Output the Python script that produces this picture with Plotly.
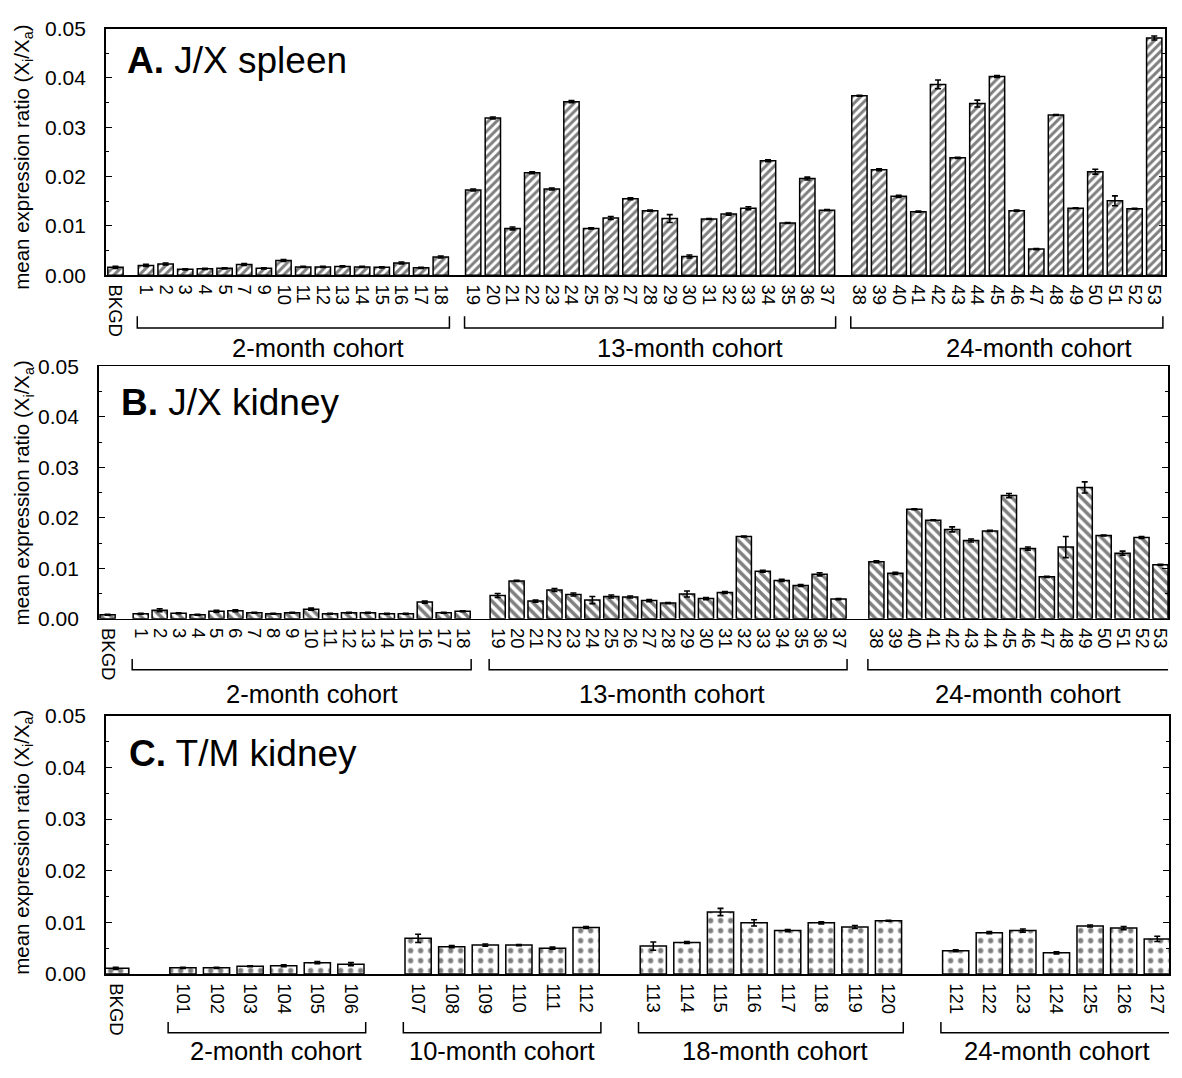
import plotly.graph_objects as go

# ---------------- DATA ----------------
# Panel A: J/X spleen
a_bkgd_label = ["BKGD"]
a_bkgd_val = [0.0016]
a_bkgd_err = [0.0002]

a_g1_labels = ["1", "2", "3", "4", "5", "7", "9", "10", "11", "12", "13", "14", "15", "16", "17", "18"]
a_g1_vals = [0.0020, 0.0023, 0.0012, 0.0013, 0.0014, 0.0022, 0.0014, 0.0030, 0.0017, 0.0017,
             0.0018, 0.0017, 0.0016, 0.0025, 0.0015, 0.0037]
a_g1_err = [0.0002, 0.0002, 0.0001, 0.0001, 0.0001, 0.0002, 0.0001, 0.0002, 0.0001, 0.0001,
            0.0001, 0.0001, 0.0001, 0.0002, 0.0001, 0.0002]

a_g2_labels = [str(i) for i in range(19, 38)]
a_g2_vals = [0.0173, 0.0319, 0.0095, 0.0208, 0.0175, 0.0352, 0.0095, 0.0116, 0.0155, 0.0131,
             0.0115, 0.0038, 0.0114, 0.0124, 0.0136, 0.0232, 0.0106, 0.0196, 0.0132]
a_g2_err = [0.0002, 0.0002, 0.0003, 0.0002, 0.0002, 0.0002, 0.0001, 0.0003, 0.0002, 0.0001,
            0.0008, 0.0003, 0.0001, 0.0002, 0.0003, 0.0002, 0.0001, 0.0003, 0.0001]

a_g3_labels = [str(i) for i in range(38, 54)]
a_g3_vals = [0.0364, 0.0214, 0.0160, 0.0129, 0.0387, 0.0238, 0.0348, 0.0403, 0.0131, 0.0053,
             0.0325, 0.0136, 0.0210, 0.0151, 0.0135, 0.0481]
a_g3_err = [0.0001, 0.0002, 0.0002, 0.0001, 0.0009, 0.0001, 0.0007, 0.0002, 0.0001, 0.0001,
            0.0001, 0.0001, 0.0005, 0.0010, 0.0001, 0.0004]

# Panel B: J/X kidney
b_bkgd_label = ["BKGD"]
b_bkgd_val = [0.0008]
b_bkgd_err = [0.0001]

b_g1_labels = [str(i) for i in range(1, 19)]
b_g1_vals = [0.0010, 0.0017, 0.0011, 0.0008, 0.0015, 0.0016, 0.0012, 0.0010, 0.0012, 0.0019,
             0.0010, 0.0012, 0.0012, 0.0010, 0.0010, 0.0033, 0.0012, 0.0015]
b_g1_err = [0.0001, 0.0003, 0.0001, 0.0001, 0.0002, 0.0002, 0.0001, 0.0001, 0.0001, 0.0002,
            0.0001, 0.0001, 0.0001, 0.0001, 0.0001, 0.0002, 0.0001, 0.0001]

b_g2_labels = [str(i) for i in range(19, 38)]
b_g2_vals = [0.0046, 0.0075, 0.0035, 0.0057, 0.0048, 0.0037, 0.0044, 0.0043, 0.0036, 0.0031,
             0.0049, 0.0040, 0.0052, 0.0163, 0.0094, 0.0076, 0.0066, 0.0088, 0.0039]
b_g2_err = [0.0004, 0.0001, 0.0002, 0.0003, 0.0003, 0.0007, 0.0003, 0.0002, 0.0002, 0.0001,
            0.0006, 0.0002, 0.0002, 0.0001, 0.0002, 0.0002, 0.0002, 0.0003, 0.0001]

b_g3_labels = [str(i) for i in range(38, 54)]
b_g3_vals = [0.0113, 0.0090, 0.0217, 0.0195, 0.0177, 0.0155, 0.0174, 0.0244, 0.0139, 0.0083,
             0.0142, 0.0260, 0.0165, 0.0130, 0.0161, 0.0107]
b_g3_err = [0.0002, 0.0002, 0.0001, 0.0001, 0.0005, 0.0003, 0.0001, 0.0004, 0.0003, 0.0001,
            0.0021, 0.0011, 0.0001, 0.0004, 0.0002, 0.0001]

# Panel C: T/M kidney
c_bkgd_label = ["BKGD"]
c_bkgd_val = [0.0011]
c_bkgd_err = [0.0002]

c_g1_labels = ["101", "102", "103", "104", "105", "106"]
c_g1_vals = [0.0012, 0.0012, 0.0015, 0.0016, 0.0022, 0.0019]
c_g1_err = [0.0001, 0.0001, 0.0001, 0.0002, 0.0002, 0.0003]

c_g2_labels = ["107", "108", "109", "110", "111", "112"]
c_g2_vals = [0.0069, 0.0053, 0.0056, 0.0056, 0.0050, 0.0090]
c_g2_err = [0.0008, 0.0002, 0.0002, 0.0001, 0.0002, 0.0002]

c_g3_labels = ["113", "114", "115", "116", "117", "118", "119", "120"]
c_g3_vals = [0.0054, 0.0061, 0.0120, 0.0099, 0.0084, 0.0099, 0.0091, 0.0103]
c_g3_err = [0.0008, 0.0002, 0.0007, 0.0006, 0.0002, 0.0002, 0.0003, 0.0001]

c_g4_labels = ["121", "122", "123", "124", "125", "126", "127"]
c_g4_vals = [0.0045, 0.0080, 0.0084, 0.0041, 0.0093, 0.0089, 0.0068]
c_g4_err = [0.0002, 0.0002, 0.0003, 0.0002, 0.0002, 0.0003, 0.0005]

a_cohorts = ["2-month cohort", "13-month cohort", "24-month cohort"]
b_cohorts = ["2-month cohort", "13-month cohort", "24-month cohort"]
c_cohorts = ["2-month cohort", "10-month cohort", "18-month cohort", "24-month cohort"]

panel_titles = ["<b>A.</b> J/X spleen", "<b>B.</b> J/X kidney", "<b>C.</b> T/M kidney"]
y_title = "mean expression ratio (X<sub>i</sub>/X<sub>a</sub>)"

# ---------------- LAYOUT HELPERS ----------------
W, H = 1182, 1078
FONT = "Liberation Sans, Arial, sans-serif"


def py(pix):
    return 1 - pix / H


def px(pix):
    return pix / W


def layout_positions(groups, gaps):
    """groups: list of label lists; gaps: distance (in slots) before each group after the first."""
    pos = []
    cur = 0.0
    for gi, g in enumerate(groups):
        if gi > 0:
            cur += gaps[gi - 1]
        gp = []
        for k in range(len(g)):
            gp.append(cur + k)
        cur = gp[-1]
        pos.append(gp)
    return pos


panels = [
    dict(
        groups=[a_bkgd_label, a_g1_labels, a_g2_labels, a_g3_labels],
        vals=[a_bkgd_val, a_g1_vals, a_g2_vals, a_g3_vals],
        errs=[a_bkgd_err, a_g1_err, a_g2_err, a_g3_err],
        gaps=[1.55, 1.65, 1.65],
        xrange=[-0.5, 53.4],
        xdom=[px(105), px(1168)],
        ydom=[py(269), py(17)],
        pattern="/",
        psize=6,
        cohorts=a_cohorts,
        cohort_shift=[25, 40, 32],
        bracket_y=(py(323), py(311)),
        label_y=py(343),
        title_xy=(px(124), py(50)),
        ytitle_y=py(148),
        bw=0.78,
    ),
    dict(
        groups=[b_bkgd_label, b_g1_labels, b_g2_labels, b_g3_labels],
        vals=[b_bkgd_val, b_g1_vals, b_g2_vals, b_g3_vals],
        errs=[b_bkgd_err, b_g1_err, b_g2_err, b_g3_err],
        gaps=[1.75, 1.85, 2.0],
        xrange=[-0.47, 56.0],
        xdom=[px(98), px(1171)],
        ydom=[py(620), py(362)],
        pattern="\\",
        psize=7,
        cohorts=b_cohorts,
        cohort_shift=[10, 4, 10],
        bracket_y=(py(672), py(661)),
        label_y=py(697),
        title_xy=(px(118), py(399)),
        ytitle_y=py(491),
        bw=0.8,
    ),
    dict(
        groups=[c_bkgd_label, c_g1_labels, c_g2_labels, c_g3_labels, c_g4_labels],
        vals=[c_bkgd_val, c_g1_vals, c_g2_vals, c_g3_vals, c_g4_vals],
        errs=[c_bkgd_err, c_g1_err, c_g2_err, c_g3_err, c_g4_err],
        gaps=[2.0, 2.0, 2.0, 2.0],
        xrange=[-0.3, 31.35],
        xdom=[px(105), px(1172)],
        ydom=[py(983), py(719)],
        pattern=".",
        psize=10,
        cohorts=c_cohorts,
        cohort_shift=[9, 0, 4, 1],
        bracket_y=(py(1043), py(1032)),
        label_y=py(1062),
        title_xy=(px(126), py(758)),
        ytitle_y=py(848),
        bw=0.78,
    ),
]

fig = go.Figure()
layout_axes = {}
shapes = []
annotations = []

for pi, p in enumerate(panels):
    ax = "" if pi == 0 else str(pi + 1)
    xref = "x" + ax
    yref = "y" + ax
    pos = layout_positions(p["groups"], p["gaps"])
    xs, ys, es, labels = [], [], [], []
    for gp, gl, gv, ge in zip(pos, p["groups"], p["vals"], p["errs"]):
        xs += gp
        labels += gl
        ys += gv
        es += ge
    pattern = dict(shape=p["pattern"], fgcolor="black", bgcolor="white",
                   size=p["psize"], solidity=0.5 if p["pattern"] != "." else 0.22,
                   fillmode="overlay")
    fig.add_trace(go.Bar(
        x=xs, y=ys, width=p["bw"], xaxis=xref, yaxis=yref,
        marker=dict(color="white", line=dict(color="black", width=1.5), pattern=pattern),
        error_y=dict(type="data", array=es, visible=True, color="black", thickness=1.6, width=3),
        showlegend=False, hoverinfo="skip",
    ))
    xa = "xaxis" + ax
    ya = "yaxis" + ax
    layout_axes[xa] = dict(
        domain=p["xdom"], anchor=yref, range=p["xrange"],
        tickmode="array", tickvals=xs, ticktext=labels, tickangle=90,
        ticks="", ticklabelstandoff=4,
        tickfont=dict(family=FONT, size=18.5, color="black"),
        showline=True, linecolor="black", linewidth=1.5, mirror=True,
        showgrid=False, zeroline=False, fixedrange=True,
    )
    layout_axes[ya] = dict(
        domain=p["ydom"], anchor=xref, range=[0, 0.05],
        tickmode="linear", tick0=0, dtick=0.01, tickformat=".2f",
        ticks="inside", ticklen=6, tickwidth=1, tickcolor="black",
        minor=dict(ticks="inside", ticklen=3, dtick=0.005, tickcolor="black"),
        ticklabelstandoff=14,
        tickfont=dict(family=FONT, size=21, color="black"),
        showline=True, linecolor="black", linewidth=1.5, mirror="ticks",
        showgrid=False, zeroline=False, fixedrange=True,
    )
    # brackets and cohort labels (skip background group)
    y0, y1 = p["bracket_y"]
    for gi, gp in enumerate(pos[1:]):
        left = gp[0] - p["bw"] / 2 - 0.05
        right = gp[-1] + p["bw"] / 2 + 0.05
        shapes.append(dict(
            type="path", xref=xref, yref="paper",
            path=f"M {left},{y1} L {left},{y0} L {right},{y0} L {right},{y1}",
            line=dict(color="black", width=1.5),
        ))
        annotations.append(dict(
            x=(gp[0] + gp[-1]) / 2, y=p["label_y"], xref=xref, yref="paper",
            text=p["cohorts"][gi], showarrow=False, xanchor="center", yanchor="middle",
            xshift=p["cohort_shift"][gi],
            font=dict(family=FONT, size=25.5, color="black"),
        ))
    # panel title
    annotations.append(dict(
        x=p["title_xy"][0], y=p["title_xy"][1], xref="paper", yref="paper",
        text=panel_titles[pi], showarrow=False, xanchor="left", yanchor="middle",
        font=dict(family=FONT, size=37, color="black"),
    ))
    # y axis title
    annotations.append(dict(
        x=px(22), y=p["ytitle_y"], xref="paper", yref="paper",
        text=y_title, showarrow=False, textangle=-90, xanchor="center", yanchor="middle",
        font=dict(family=FONT, size=20.5, color="black"),
    ))

fig.update_layout(
    width=W, height=H,
    margin=dict(l=0, r=0, t=0, b=0),
    paper_bgcolor="white", plot_bgcolor="white",
    font=dict(family=FONT, color="black"),
    bargap=0,
    shapes=shapes, annotations=annotations,
    **layout_axes,
)

fig.write_html(
    "out.html",
    config={"displayModeBar": False, "staticPlot": True},
    post_script="document.body.style.margin='0';document.body.style.overflow='hidden';",
)
